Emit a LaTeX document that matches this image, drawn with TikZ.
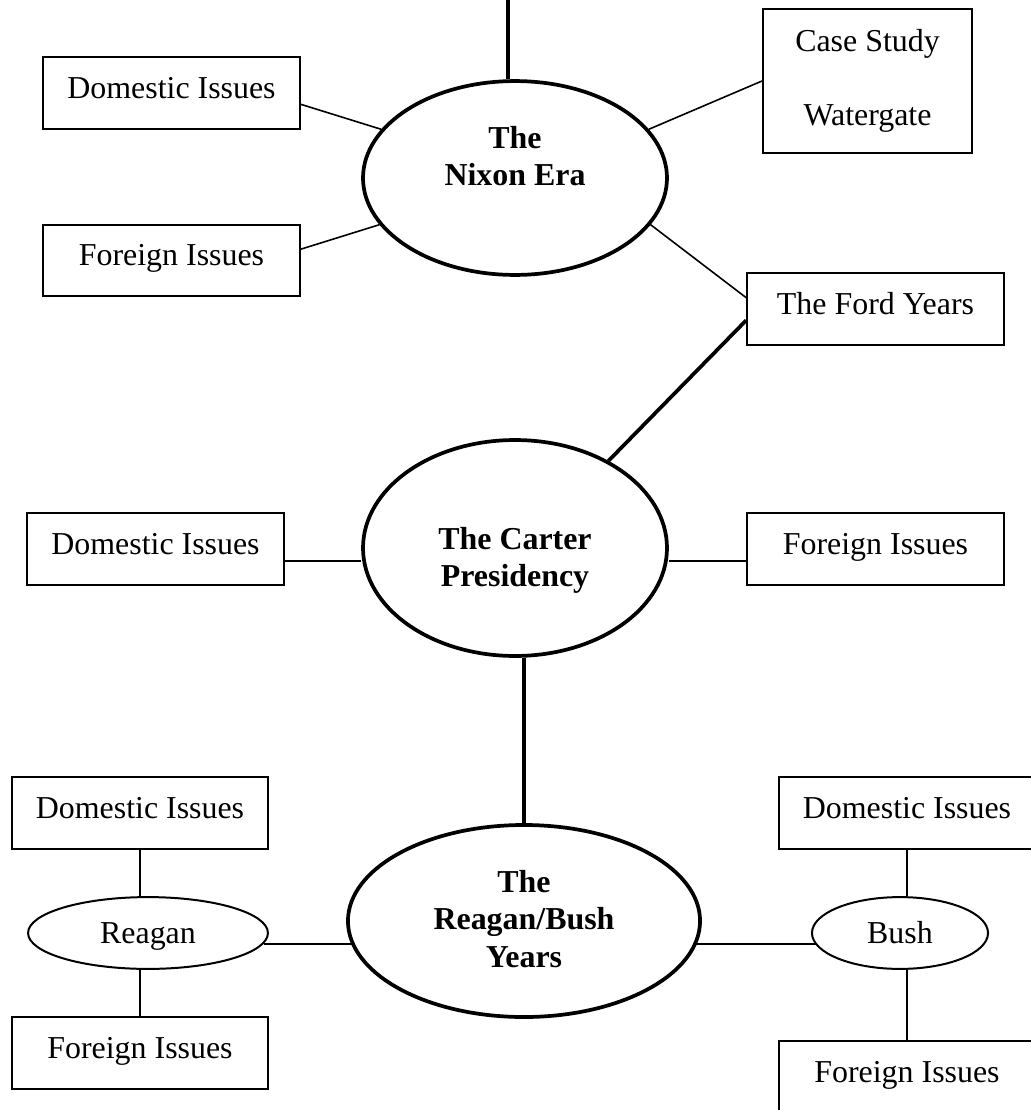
\documentclass[tikz,border=0pt]{standalone}
\usepackage{fontspec}
\setmainfont{Liberation Serif}
\usetikzlibrary{shapes.geometric}

\begin{document}
\begin{tikzpicture}[x=0.376pt,y=-0.376pt,
    every node/.style={font=\fontsize{12}{14}\selectfont},
    framebox/.style={draw,line width=0.75pt,inner sep=0pt},
    box/.style={framebox,minimum width=96.5pt,minimum height=27pt,text height=8pt,text depth=4pt},
    era/.style={draw,ellipse,line width=1.4pt,inner sep=0pt},
    eratext/.style={font=\fontsize{12}{14}\selectfont\bfseries,align=center},
    pres/.style={draw,ellipse,line width=0.75pt,minimum height=27pt,inner sep=0pt,text height=8pt,text depth=0pt},
    link/.style={line width=0.6pt},
    mainlink/.style={line width=1.4pt}]
        \useasboundingbox (0,0) rectangle (1031,1110);

        %%%%%%% Nixon %%%%%%%%
        \coordinate (top) at (508,0);
        \node[era,minimum width=114.3pt,minimum height=72.9pt] (nixon) at (515,178) {};
        \node[eratext] (nixonlbl) at (515,156) {The\\Nixon Era};
        \node[box] (ndom) at (171.5,93) {Domestic Issues};
        \node[box] (nfor) at (171.5,260.5) {Foreign Issues};
        \node[framebox,minimum width=78.6pt,minimum height=54pt,align=center,
              font=\fontsize{12}{28}\selectfont] (case) at (867.5,81) {Case Study\\Watergate};
        \node[box] (ford) at (875.5,309) {The Ford Years};

        \draw[mainlink] (top) -- (top |- nixon.north);
        \draw[link] (ndom.-5) -- (nixon.160);
        \draw[link] (nfor.5) -- (nixon.199);
        \draw[link] (case.west) -- (nixon.20);
        \draw[link] (ford.175) -- (nixon.-19);

        %%%%%%% Carter %%%%%%%%
        \node[era,minimum width=114.3pt,minimum height=81.2pt] (carter) at (515,548) {};
        \node[eratext] (carterlbl) at (515,560) {The Carter\\Presidency};
        \node[box] (cdom) at (155.5,549) {Domestic Issues};
        \node[box] (cfor) at (875.5,549) {Foreign Issues};

        \coordinate (crow) at (0,561);
        \draw[link] (cdom.east |- crow) -- (carter.west |- crow);
        \draw[link] (carter.east |- crow) -- (cfor.west |- crow);
        \draw[mainlink] (ford.185) -- (carter.43);

        %%%%%%% Reagan/Bush %%%%%%%%
        \node[era,minimum width=132.4pt,minimum height=72.2pt] (rb) at (524,921) {};
        \node[eratext] (rblbl) at (524,919) {The\\Reagan/Bush\\Years};
        \draw[mainlink] (rb.north |- carter.south) -- (rb.north);

        \node[pres,minimum width=90.2pt] (reagan) at (148,933) {Reagan};
        \node[box] (rdom) at (140,813) {Domestic Issues};
        \node[box] (rfor) at (140,1053) {Foreign Issues};

        \node[pres,minimum width=66.2pt] (bush) at (900,933) {Bush};
        \node[box] (bdom) at (907,813) {Domestic Issues};
        \node[box] (bfor) at (907,1077) {Foreign Issues};

        \coordinate (rbrow) at (0,944);
        \draw[link] (reagan.-5 |- rbrow) -- (rb.188 |- rbrow);
        \draw[link] (rb.-8 |- rbrow) -- (bush.188 |- rbrow);
        \draw[link] (rdom.south) -- (rdom.south |- reagan.north);
        \draw[link] (rfor.north |- reagan.south) -- (rfor.north);
        \draw[link] (bdom.south) -- (bdom.south |- bush.north);
        \draw[link] (bfor.north |- bush.south) -- (bfor.north);
    \end{tikzpicture}
\end{document}
